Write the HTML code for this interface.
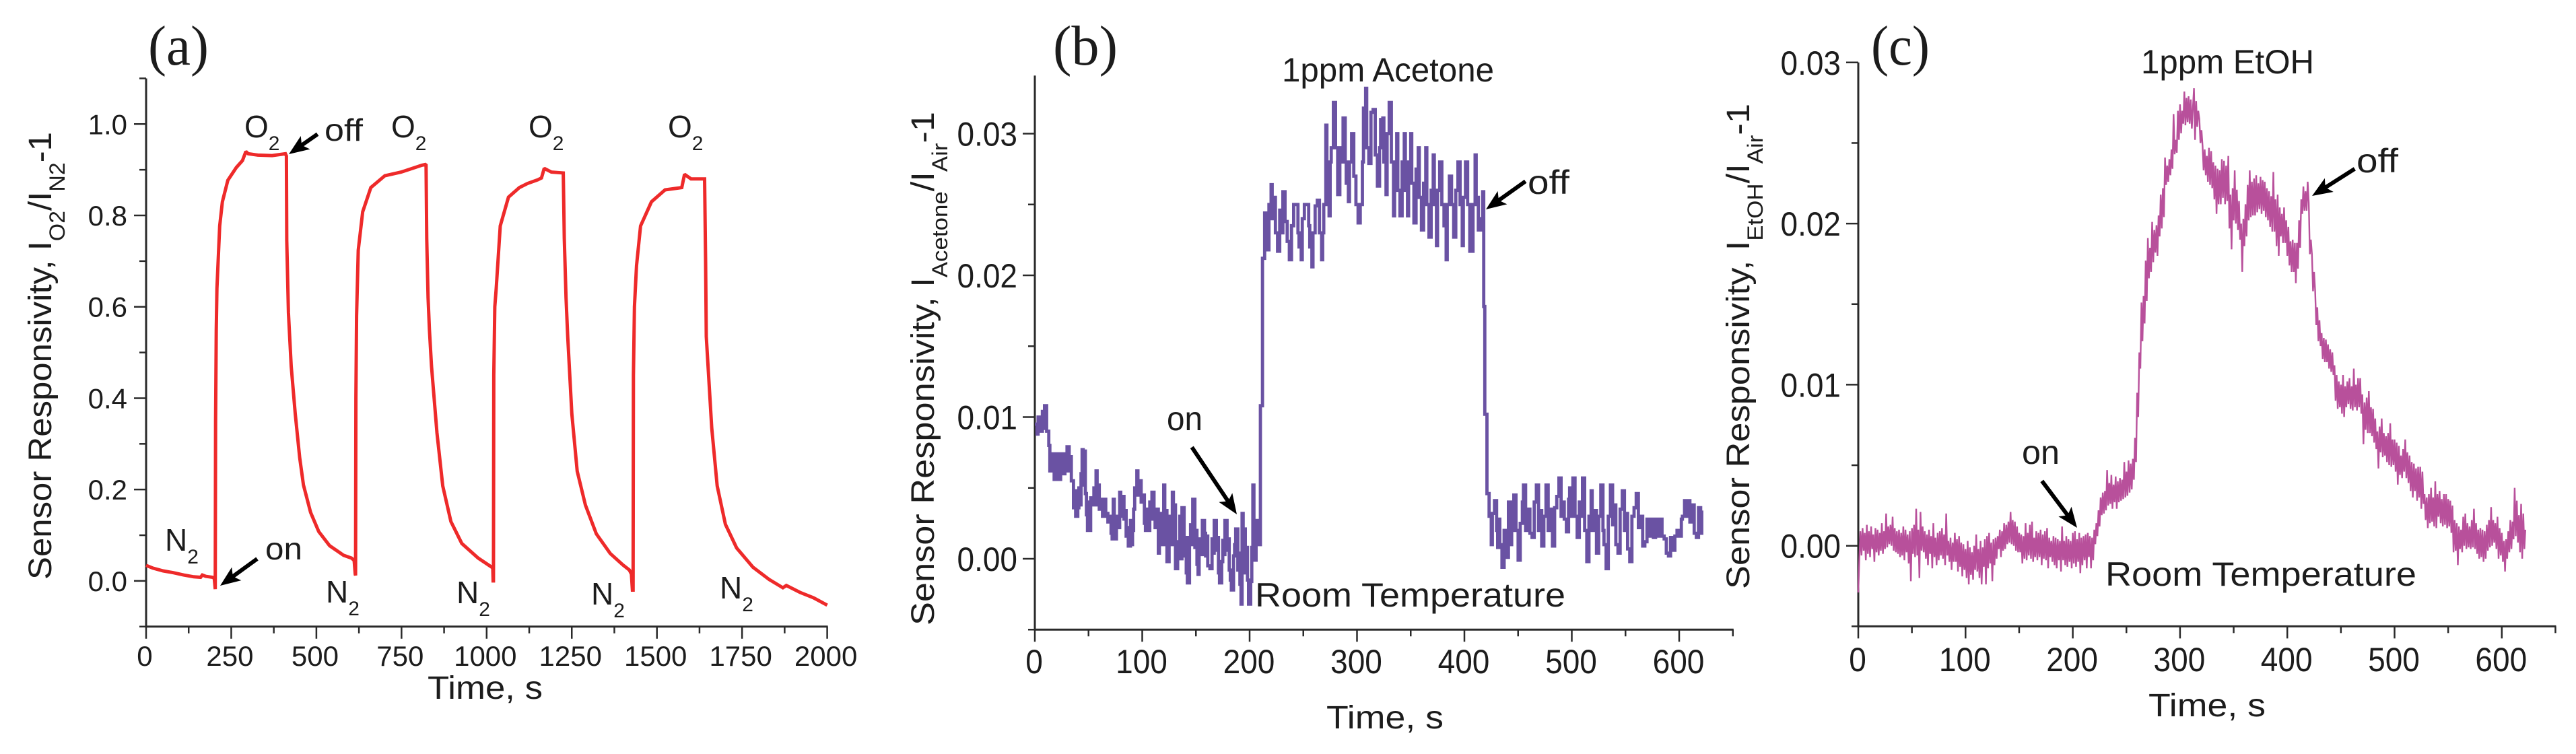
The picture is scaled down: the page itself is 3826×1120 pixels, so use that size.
<!DOCTYPE html>
<html lang="en">
<head>
<meta charset="utf-8">
<title>Sensor responsivity panels</title>
<style>
html,body{margin:0;padding:0;background:#fff;overflow:hidden}
svg{display:block}
text{font-family:"Liberation Sans",Arial,sans-serif;fill:#1c1c1c}
.letter{font-family:"Liberation Serif",serif;font-size:84px}
.title{font-size:48px}
.title tspan.s{font-size:32px}
.ann-a{font-size:46px}
.ann-b{font-size:50px}
.sub{font-size:30px}
</style>
</head>
<body>
<svg id="figure" xmlns="http://www.w3.org/2000/svg" width="3826" height="1120" viewBox="0 0 3826 1120">
<rect width="3826" height="1120" fill="#fff"/>

<g id="panel-a">
  <text class="letter" x="220" y="96" textLength="90" lengthAdjust="spacingAndGlyphs">(a)</text>
  <text class="title" transform="translate(76,861) rotate(-90)" textLength="665" lengthAdjust="spacingAndGlyphs">Sensor Responsivity, I<tspan class="s" dy="20">O2</tspan><tspan dy="-20">/I</tspan><tspan class="s" dy="20">N2</tspan><tspan dy="-20">-1</tspan></text>
  <text class="title" x="635" y="1038" textLength="171" lengthAdjust="spacingAndGlyphs">Time, s</text>
  <text class="ann-a" x="363" y="204">O<tspan class="sub" dy="19">2</tspan></text>
  <text class="ann-a" x="581" y="204">O<tspan class="sub" dy="19">2</tspan></text>
  <text class="ann-a" x="785" y="204">O<tspan class="sub" dy="19">2</tspan></text>
  <text class="ann-a" x="992" y="204">O<tspan class="sub" dy="19">2</tspan></text>
  <text class="ann-a" x="245" y="818">N<tspan class="sub" dy="19">2</tspan></text>
  <text class="ann-a" x="484" y="895">N<tspan class="sub" dy="19">2</tspan></text>
  <text class="ann-a" x="678" y="896">N<tspan class="sub" dy="19">2</tspan></text>
  <text class="ann-a" x="878" y="898">N<tspan class="sub" dy="19">2</tspan></text>
  <text class="ann-a" x="1069" y="889">N<tspan class="sub" dy="19">2</tspan></text>
  <text class="ann-a" x="482" y="209" textLength="57" lengthAdjust="spacingAndGlyphs">off</text>
  <text class="ann-a" x="394" y="831" textLength="55" lengthAdjust="spacingAndGlyphs">on</text>
</g>

<g id="panel-b">
  <text class="letter" x="1564" y="96" textLength="96" lengthAdjust="spacingAndGlyphs">(b)</text>
  <text class="title" transform="translate(1387,929) rotate(-90)" textLength="763" lengthAdjust="spacingAndGlyphs">Sensor Responsivity, I<tspan class="s" dy="20">Acetone</tspan><tspan dy="-20">/I</tspan><tspan class="s" dy="20">Air</tspan><tspan dy="-20">-1</tspan></text>
  <text class="title" x="1970" y="1082" textLength="174" lengthAdjust="spacingAndGlyphs">Time, s</text>
  <text class="ann-b" x="1904" y="121" textLength="315" lengthAdjust="spacingAndGlyphs">1ppm Acetone</text>
  <text class="ann-b" x="1733" y="639" textLength="53" lengthAdjust="spacingAndGlyphs">on</text>
  <text class="ann-b" x="2269" y="288" textLength="62" lengthAdjust="spacingAndGlyphs">off</text>
  <text class="ann-b" x="1864" y="901" textLength="461" lengthAdjust="spacingAndGlyphs">Room Temperature</text>
</g>

<g id="panel-c">
  <text class="letter" x="2779" y="96" textLength="87" lengthAdjust="spacingAndGlyphs">(c)</text>
  <text class="title" transform="translate(2598,875) rotate(-90)" textLength="721" lengthAdjust="spacingAndGlyphs">Sensor Responsivity, I<tspan class="s" dy="20">EtOH</tspan><tspan dy="-20">/I</tspan><tspan class="s" dy="20">Air</tspan><tspan dy="-20">-1</tspan></text>
  <text class="title" x="3191" y="1064" textLength="174" lengthAdjust="spacingAndGlyphs">Time, s</text>
  <text class="ann-b" x="3180" y="109" textLength="257" lengthAdjust="spacingAndGlyphs">1ppm EtOH</text>
  <text class="ann-b" x="3003" y="689" textLength="56" lengthAdjust="spacingAndGlyphs">on</text>
  <text class="ann-b" x="3500" y="256" textLength="62" lengthAdjust="spacingAndGlyphs">off</text>
  <text class="ann-b" x="3127" y="870" textLength="462" lengthAdjust="spacingAndGlyphs">Room Temperature</text>
</g>

<g id="marks"></g>

<g id="arrows" fill="#000">
  <path transform="translate(429,229) rotate(145.1)" d="M0 0L-30 -12L-25 -3L-52 -3L-52 3L-25 3L-30 12Z"/>
  <path transform="translate(327,870) rotate(144)" d="M0 0L-30 -12L-25 -3L-68 -3L-68 3L-25 3L-30 12Z"/>
  <path transform="translate(1837,764) rotate(56.2)" d="M0 0L-30 -12L-25 -3L-120 -3L-120 3L-25 3L-30 12Z"/>
  <path transform="translate(2207,311) rotate(144.6)" d="M0 0L-30 -12L-25 -3L-72 -3L-72 3L-25 3L-30 12Z"/>
  <path transform="translate(3085,784) rotate(53.1)" d="M0 0L-30 -12L-25 -3L-87 -3L-87 3L-25 3L-30 12Z"/>
  <path transform="translate(3434,291) rotate(147.6)" d="M0 0L-30 -12L-25 -3L-75 -3L-75 3L-25 3L-30 12Z"/>
</g>
</svg>

<script>
// ---- Panel (a): O2/N2 cycling ----
const timeA = [0,20,50,80,110,140,160,165,175,185,195,200,203,204,206,208,216,224,240,265,283,293,300,328,370,409,412,413,418,426,438,451,462,483,507,539,580,603,611,614,
615,616,618,623,636,660,701,749,790,810,822,824,828,832,838,854,871,895,927,975,1015,1018,1019,
1020,1021,1024,1028,1040,1064,1096,1120,1150,1161,1169,1190,1225,1228,1233,1238,1250,1266,1290,1322,1363,1400,1419,1425,1428,
1430,1431,1434,1440,1452,1484,1524,1573,1581,1600,1635,1640,1643,1645,1661,1677,1701,1734,1782,1830,1870,1880,1920,1960,2000];
const valueA = [0.034,0.028,0.022,0.018,0.013,0.009,0.008,0.013,0.010,0.009,0.008,0.006,-0.018,0.35,0.55,0.64,0.777,0.83,0.877,0.905,0.92,0.94,0.935,0.932,0.931,0.935,0.93,0.745,0.587,0.47,0.366,0.27,0.21,0.15,0.108,0.077,0.056,0.05,0.045,0.015,
0.012,0.40,0.58,0.724,0.808,0.861,0.887,0.895,0.905,0.91,0.912,0.75,0.62,0.55,0.47,0.324,0.208,0.13,0.082,0.05,0.03,0.028,0.0,
0.0,0.45,0.60,0.64,0.777,0.84,0.861,0.87,0.878,0.882,0.903,0.895,0.893,0.75,0.62,0.535,0.366,0.24,0.166,0.103,0.06,0.035,0.024,0.015,-0.02,
-0.02,0.45,0.60,0.69,0.777,0.83,0.856,0.861,0.89,0.88,0.88,0.88,0.70,0.535,0.335,0.208,0.124,0.072,0.03,0.003,-0.015,-0.01,-0.025,-0.037,-0.053];
const xTicksA = [0,250,500,750,1000,1250,1500,1750,2000];
const xLabelsA = ["0","250","500","750","1000","1250","1500","1750","2000"];
const xMinorA = [125,375,625,875,1125,1375,1625,1875];
const yTicksA = [0,0.2,0.4,0.6,0.8,1.0];
const yLabelsA = ["0.0","0.2","0.4","0.6","0.8","1.0"];
const yMinorA = [-0.1,0.1,0.3,0.5,0.7,0.9,1.1];

// ---- Panel (b): acetone response; values in units of 1e-4, held until the next time ----
const timeB = [0,2,3,5,7,8,9,11,13,14,16,18,20,22,24,26,28,29,30,32,33,34,36,37,38,40,41,42,43,44,45,46,47,48,49,50,51,52,54,55,56,57,58,59,60,62,63,65,66,68,70,71,72,73,74,75,76,77,79,80,81,83,84,85,86,87,89,90,91,92,93,95,96,98,99,101,102,103,105,106,107,108,109,111,112,114,115,116,118,119,120,121,122,123,125,126,128,129,130,131,133,134,135,136,137,139,140,141,142,144,145,146,147,149,150,151,152,153,154,155,156,158,159,160,161,163,165,166,167,169,170,171,172,174,175,176,177,179,180,181,182,183,185,186,187,189,190,191,192,193,194,195,196,197,198,199,201,202,203,204,205,206,207,208,209,
210,212,214,216,218,220,221,222,224,226,228,229,231,233,235,237,239,241,243,245,246,248,249,251,253,255,256,258,259,261,263,265,267,268,269,271,272,274,275,276,278,280,282,284,285,287,289,290,292,293,295,297,299,301,303,305,306,308,309,311,313,315,317,319,321,322,324,325,327,328,330,332,334,335,337,338,340,342,344,345,347,348,350,351,353,355,357,358,360,362,364,365,367,369,371,372,374,375,377,379,381,383,384,386,388,390,392,394,396,398,399,401,403,405,408,410,411,413,415,417,418,419,
421,423,425,426,428,430,431,432,433,435,437,439,441,443,444,446,448,450,452,454,455,457,459,461,463,465,467,469,470,472,474,476,478,480,482,484,486,488,490,492,493,495,497,498,499,501,503,505,507,508,510,512,514,516,518,519,521,523,525,527,529,530,532,534,536,538,540,541,543,545,547,549,551,552,554,556,558,560,562,564,566,568,570,572,574,576,578,580,582,584,586,588,590,592,594,596,598,600,602,603,605,606,608,610,612,614,616,618,620,621];
const valueB = [9.5,8.8,10,9,10.4,9.2,10.8,9,8,6.2,7.4,5.6,7.4,5.6,7.4,6,7.4,6.2,7.9,6.2,7.2,5.5,3.6,4.8,3,3.6,5,3.8,6,7.7,5.2,7.6,4.6,3.1,2,4,2,4.3,3.8,5,3.8,6.2,4,5.2,3.5,4.2,3,4.2,3.2,2.6,3,1.8,1.4,4.2,2,1.4,3,2.2,4.7,3,4.4,2.8,3.4,1.6,2.2,0.9,2.7,1,2,3.5,5,6.2,4.5,5.5,4,4.5,2.5,2,3.5,2,4,2.8,4.7,3,2.2,3.5,0.4,1.6,3.2,1,5.2,1.8,3.4,-0.2,3,1,4.7,2,3.8,-0.7,1.2,0.5,3,0,3.6,0.2,1.5,-1,-1.7,1.5,2.4,1,4.2,0.8,2,-0.4,-1.1,0.5,1.4,0.3,2.7,1.8,0.2,1.6,-0.5,-0.7,1.4,0.4,2.7,0.6,1.5,-1,-1.7,-0.2,1.3,0.3,2.7,0.6,1.4,-0.8,-1.5,-2.2,0.2,1,2.1,-0.8,0.4,-1.8,-3.2,3.2,-0.8,2.1,-1,0.8,-1.5,-3.2,-1.6,0.8,5.2,1.2,-0.1,2.7,1,2,1,10.8,
21.2,24.4,21.8,25,26.4,24,25.5,23,21.7,24.6,23,25.9,23.8,22.4,21.1,23.5,25,25,23,22,21.1,24,25,25,23.5,22,20.6,23,24.9,25.3,23,21.1,23,25,30.6,27,24.2,28,29,32.2,29,25.7,29,28,31.1,28,26.5,25.2,28,30,27,25,23.7,25,28,31.8,33.2,29,27.9,31.5,31.7,28.5,26.3,29,31,31.1,28,25.7,30,32.2,28,24.2,27,30,26,24.2,28,30,26,24.2,28,30,26.5,23.7,27.5,29,25.5,23.2,26.5,29,25,22.7,26,28.5,25,22.1,26,28,25,23.5,21.1,25,27,25,22.7,26,28,25,22.1,25.5,28,25,21.7,25,28.5,25.5,23.2,24,25.9,17.8,10.2,4.6,
3,1,3.2,4.1,2,0.8,2.8,1,-0.6,2,0.1,4,1,2,4.5,2,-0.1,2.5,4,5.2,2,3.5,1.8,1.5,4,5.2,2,3.4,0.9,3,5.2,2,3.5,0.9,3.6,4.4,5.7,3,4,2.8,1.9,4.2,5,3,5.7,3,1.5,4,3,5.7,2,-0.2,3,4.8,2,3.4,0.4,3,5.2,2,1,-0.7,3,5.2,2.4,3.8,1,0.4,3.5,4.8,2,3.2,0.7,-0.2,3,3.6,4.6,2.2,3,0.9,1.2,2.8,1.6,2.8,1.5,2.8,1.6,2.8,1.6,1.4,0.4,0.2,1.5,0.6,1.6,2,1.6,2.8,3,4.1,3,4.1,2.6,3.8,1.8,1.5,3.6,1.8,3.4,1.5];
const xTicksB = [0,100,200,300,400,500,600];
const xLabelsB = ["0","100","200","300","400","500","600"];
const xMinorB = [50,150,250,350,450,550,650];
const yTicksB = [0,10,20,30];
const yLabelsB = ["0.00","0.01","0.02","0.03"];
const yMinorB = [-5,5,15,25];

// ---- Panel (c): ethanol response; one reading per second, units of 1e-4 ----
const valueC = [
-2.9,-0.8,0.9,-0.6,1.1,-0.3,0.8,-0.9,1.3,-0.5,
0.9,-0.7,1.2,-0.2,0.7,-1.0,1.1,-0.4,1.0,-0.6,
0.8,-0.3,1.4,-0.5,0.9,-0.2,2.0,-0.1,1.2,0.1,
1.3,0.0,1.8,-0.3,1.1,-0.4,0.9,-0.5,1.0,-0.7,
0.8,-0.6,1.2,-0.9,1.0,-0.4,0.7,-1.1,0.9,-2.2,
1.1,-0.5,1.3,-0.7,2.3,-0.6,1.0,-2.0,2.1,-0.3,
1.2,-0.4,0.9,-0.8,0.7,-1.2,1.0,-0.5,0.6,-1.4,
1.4,-0.7,0.5,-1.2,0.8,-0.9,0.9,-0.6,1.1,-0.8,
0.7,-1.2,2.0,-0.6,0.3,-1.0,0.5,-1.5,0.2,-1.0,
0.8,-1.0,0.4,-1.6,0.6,-1.3,0.2,-1.9,0.1,-1.5,
-0.2,-2.0,0.3,-2.4,-0.1,-1.8,-0.4,-2.1,0.0,-1.5,
0.7,-1.6,-0.2,-2.0,0.3,-2.4,-0.1,-1.3,0.4,-2.4,
0.6,-1.4,0.8,-1.1,0.2,-2.2,0.4,-1.2,0.5,-0.8,
0.6,-0.2,1.0,-0.7,0.9,-0.3,1.4,-0.2,1.3,0.1,
1.5,0.2,2.1,0.1,1.6,0.0,1.5,-0.3,1.2,-0.4,
0.8,-0.4,0.7,-1.1,0.6,-0.8,1.4,-0.9,0.8,-0.6,
1.3,-0.8,1.5,-1.0,0.5,-0.7,0.9,-0.9,0.8,-0.7,
1.0,-1.2,0.7,-0.8,0.9,-0.9,1.1,-1.4,0.5,-0.7,
0.3,-1.0,0.6,-1.2,0.5,-1.4,0.4,-0.9,0.3,-1.6,
1.2,-0.9,0.3,-1.2,0.6,-1.3,0.4,-1.0,0.3,-1.4,
0.8,-1.1,0.9,-1.3,0.4,-1.0,0.8,-1.7,0.5,-1.2,
0.6,-0.9,0.7,-1.4,0.8,-0.7,0.6,-1.4,0.5,-0.9,
1.0,0.1,1.4,0.6,2.2,1.2,3.0,1.9,3.3,2.0,
3.4,2.2,4.7,2.5,3.9,2.6,4.4,2.3,3.8,2.7,
4.3,2.3,4.0,2.7,4.2,2.8,4.1,2.9,5.2,3.0,
4.6,3.1,5.3,3.3,5.1,3.5,5.4,4.1,6.7,5.2,
9.5,8.0,12.0,11.0,15.1,12.7,15.5,13.8,17.7,15.2,
19.1,16.6,18.5,17.0,20.1,17.6,19.6,18.2,19.9,18.0,
20.5,19.2,21.8,19.7,22.2,20.4,24.1,22.4,23.6,22.6,
24.0,23.0,24.6,23.4,26.8,24.3,25.2,24.4,27.0,25.2,
27.4,25.6,27.0,26.2,28.2,26.1,27.8,26.3,27.9,26.2,
27.7,25.9,27.2,28.4,25.2,27.6,26.0,27.0,26.5,25.0,
25.8,24.8,23.3,24.6,23.0,24.2,22.6,24.7,22.4,24.5,
22.2,23.8,21.5,23.6,20.6,23.4,21.2,23.3,21.2,24.0,
21.6,23.9,21.2,23.6,21.4,24.2,19.7,21.8,18.4,22.2,
20.2,23.3,20.0,22.1,19.6,21.4,19.0,20.0,17.0,20.3,
18.6,21.2,19.2,22.4,20.2,23.3,20.4,22.6,20.5,22.8,
20.5,23.0,20.7,22.5,20.9,22.9,20.6,22.7,20.8,22.6,
20.4,22.2,20.2,22.0,19.8,21.7,19.5,23.2,19.5,21.5,
18.6,21.8,18.0,21.0,19.2,20.6,18.8,21.0,18.8,20.2,
18.0,19.8,17.4,18.9,17.0,19.0,17.0,18.8,16.3,18.8,
17.2,20.2,18.5,21.5,20.6,22.3,20.8,22.0,20.8,22.6,
21.3,18.1,19.0,18.1,15.8,17.0,15.8,13.7,14.8,12.7,
14.0,12.4,13.2,11.6,12.9,11.4,12.8,11.4,12.5,11.0,
12.2,10.8,12.0,10.6,11.2,9.0,10.6,8.5,10.2,8.6,
10.0,8.2,10.6,8.0,9.9,8.6,10.2,8.8,10.4,8.5,
9.9,8.4,11.0,8.6,10.0,8.4,10.4,8.6,10.4,8.2,
9.4,6.3,8.9,7.2,9.2,7.0,9.6,7.0,8.6,6.8,
8.5,6.4,7.9,6.0,7.1,4.8,7.4,5.8,7.9,5.5,
7.0,5.6,6.8,5.2,7.0,5.0,7.6,4.9,6.6,5.0,
6.6,4.6,6.4,3.8,6.2,4.4,5.6,4.2,6.0,4.6,
6.6,4.2,5.8,3.9,5.6,3.4,5.2,3.0,5.1,3.4,
4.8,2.8,4.9,3.0,4.9,2.3,4.6,2.6,3.2,1.6,
3.0,1.1,3.2,1.4,3.6,1.5,3.0,1.2,4.0,1.1,
3.2,1.8,3.4,1.4,2.9,1.2,3.2,1.3,3.2,1.1,
2.9,1.2,2.8,0.8,2.5,-0.4,1.6,-0.3,1.4,-1.2,
1.2,-0.2,1.0,-0.4,1.8,0.0,2.0,-0.2,1.4,-0.1,
1.2,-0.2,1.6,-0.1,2.3,-0.2,1.4,-0.5,1.0,-0.8,
1.1,-0.7,1.0,-1.0,0.9,-0.8,1.3,-0.3,1.6,-0.1,
2.4,0.0,1.6,0.2,1.4,-0.2,1.8,-0.8,1.1,-0.6,
0.8,-1.0,0.3,-1.6,0.4,-0.8,0.9,-0.4,1.6,-0.2,
1.5,0.4,3.6,0.6,2.8,0.2,1.9,-0.4,2.6,-0.8,
2.0,-0.2,1.0];
const xTicksC = [0,100,200,300,400,500,600];
const xLabelsC = ["0","100","200","300","400","500","600"];
const xMinorC = [50,150,250,350,450,550,650];
const yTicksC = [0,10,20,30];
const yLabelsC = ["0.00","0.01","0.02","0.03"];
const yMinorC = [-5,5,15,25];

const NS = 'http://www.w3.org/2000/svg';
const marks = document.getElementById('marks');

function linear(d0, d1, r0, r1) {
  return function (v) { return r0 + (v - d0) * (r1 - r0) / (d1 - d0); };
}

function seriesPath(times, values, x, y, stepped) {
  let d = '';
  for (let i = 0; i < values.length; i++) {
    const px = x(times ? times[i] : i).toFixed(1);
    const py = y(values[i]).toFixed(1);
    if (i === 0) d += 'M' + px + ' ' + py;
    else if (stepped) d += 'H' + px + 'V' + py;
    else d += 'L' + px + ' ' + py;
  }
  return d;
}

function drawSeries(panel, d, color, width) {
  const p = document.createElementNS(NS, 'path');
  p.setAttribute('d', d);
  p.setAttribute('fill', 'none');
  p.setAttribute('stroke', color);
  p.setAttribute('stroke-width', width);
  p.setAttribute('stroke-linejoin', 'miter');
  p.setAttribute('stroke-miterlimit', '1.5');
  
  
  marks.appendChild(p);
}

function drawLine(name, x1, y1, x2, y2, w) {
  const l = document.createElementNS(NS, 'line');
  l.setAttribute('x1', x1);
  l.setAttribute('y1', y1);
  l.setAttribute('x2', x2);
  l.setAttribute('y2', y2);
  l.setAttribute('stroke', '#2a2a2a');
  l.setAttribute('stroke-width', w);
  
  
  marks.appendChild(l);
}

function drawLabel(name, str, x, y, anchor, size, sx) {
  const t = document.createElementNS(NS, 'text');
  t.textContent = str;
  t.setAttribute('x', x);
  t.setAttribute('y', y);
  t.setAttribute('text-anchor', anchor);
  t.setAttribute('font-size', size);
  
  
  marks.appendChild(t);
  t.setAttribute('textLength', (t.getComputedTextLength() * sx).toFixed(1));
  t.setAttribute('lengthAdjust', 'spacingAndGlyphs');
}

function drawAxes(panel, cfg) {
  const x = cfg.x, y = cfg.y;
  const ax = x(cfg.xDomain[0]), ay = y(cfg.yDomain[0]);
  drawLine('panel-' + panel + '-y-axis', ax, y(cfg.yDomain[1]), ax, ay + 1.5, 3);
  drawLine('panel-' + panel + '-x-axis', ax, ay, x(cfg.xDomain[1]) + 1, ay, 3);
  cfg.xTicks.forEach(function (v, i) {
    drawLine('panel-' + panel + '-x-tick', x(v), ay, x(v), ay + 18, 2.5);
    drawLabel('panel-' + panel + '-x-tick-label', cfg.xLabels[i], x(v) + cfg.xOff, cfg.xBase, 'middle', cfg.size, cfg.sx);
  });
  cfg.xMinor.forEach(function (v) {
    drawLine('panel-' + panel + '-x-minor-tick', x(v), ay, x(v), ay + 10, 2.5);
  });
  cfg.yTicks.forEach(function (v, i) {
    drawLine('panel-' + panel + '-y-tick', ax - 18, y(v), ax, y(v), 2.5);
    drawLabel('panel-' + panel + '-y-tick-label', cfg.yLabels[i], ax - cfg.yGap, y(v) + cfg.yBase, 'end', cfg.size, cfg.sx);
  });
  cfg.yMinor.forEach(function (v) {
    drawLine('panel-' + panel + '-y-minor-tick', ax - 10, y(v), ax, y(v), 2.5);
  });
}

const xA = linear(0, 2000, 217, 1228.6);
const yA = linear(0, 1, 862.9, 184.3);
drawAxes('a', {x: xA, y: yA, xDomain: [0, 2000], yDomain: [-0.1, 1.1], xTicks: xTicksA, xLabels: xLabelsA, xMinor: xMinorA, yTicks: yTicksA, yLabels: yLabelsA, yMinor: yMinorA, size: 42, sx: 1, xBase: 989, xOff: -2, yGap: 28, yBase: 15});
drawSeries('a', seriesPath(timeA, valueA, xA, yA, false), '#ee2a2a', 5);

const xB = linear(0, 100, 1537, 1696.5);
const yB = linear(0, 10, 830, 619.5);
drawAxes('b', {x: xB, y: yB, xDomain: [0, 650], yDomain: [-5, 34.1], xTicks: xTicksB, xLabels: xLabelsB, xMinor: xMinorB, yTicks: yTicksB, yLabels: yLabelsB, yMinor: yMinorB, size: 50, sx: 0.92, xBase: 1000, xOff: -1, yGap: 26, yBase: 18});
drawSeries('b', seriesPath(timeB, valueB, xB, yB, true), '#6a52a3', 4.8);

const xC = linear(0, 100, 2760, 2919.3);
const yC = linear(0, 10, 810.7, 571.4);
drawAxes('c', {x: xC, y: yC, xDomain: [0, 650], yDomain: [-5, 30], xTicks: xTicksC, xLabels: xLabelsC, xMinor: xMinorC, yTicks: yTicksC, yLabels: yLabelsC, yMinor: yMinorC, size: 50, sx: 0.92, xBase: 997, xOff: -1, yGap: 26, yBase: 18});
drawSeries('c', seriesPath(null, valueC, xC, yC, false), '#b8509b', 2.4);
</script>
</body>
</html>
